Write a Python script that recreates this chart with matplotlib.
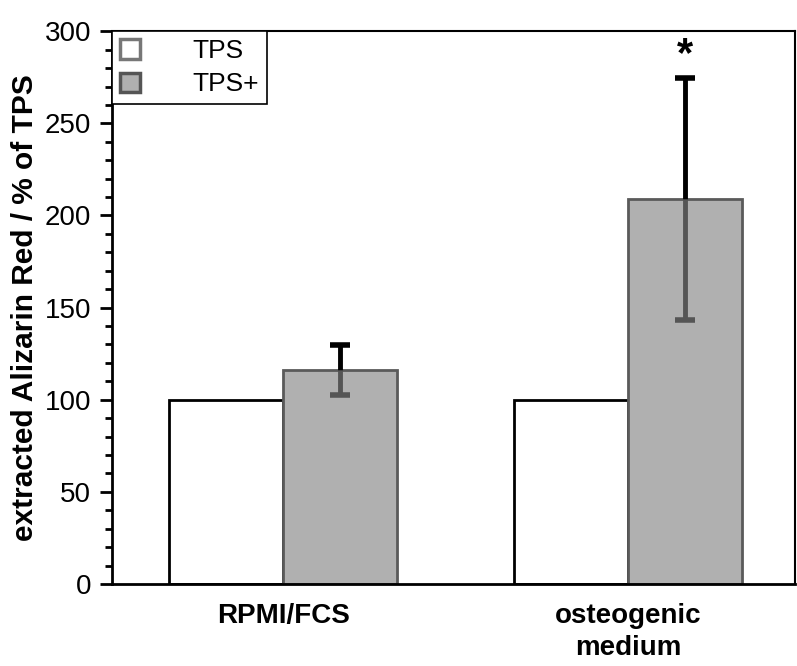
import matplotlib
matplotlib.use("Agg")
import matplotlib.pyplot as plt
from matplotlib.ticker import MultipleLocator
from matplotlib.patches import Patch
import numpy as np

plt.rcParams['font.family'] = ['Liberation Sans', 'DejaVu Sans']

groups = ["RPMI/FCS", "osteogenic\nmedium"]
tps = [100, 100]
tps_plus = [116, 209]
tps_plus_err = [13.5, 65.5]
star_y = 287

fig = plt.figure(figsize=(7.97, 6.66), dpi=100)
ax = fig.add_axes([0.1405, 0.1231, 0.857, 0.830])

x = np.arange(len(groups))
w = 0.33
ax.bar(x - w / 2, tps, w, color="white", edgecolor="black", linewidth=2, zorder=2)
ax.bar(x + w / 2, tps_plus, w, color="#b0b0b0", edgecolor="#5a5a5a", linewidth=2, zorder=2)

# error bars: upper part black, lower part (inside the bar) dark gray
tp = np.array(tps_plus)
err = np.array(tps_plus_err)
xe = x + w / 2
ax.vlines(xe, tp, tp + err, color="black", linewidth=3.5, zorder=3)
ax.vlines(xe, tp - err, tp, color="#555555", linewidth=3.5, zorder=3)
ax.plot(xe, tp + err, ls="none", marker="_", ms=14, mew=4, color="black", zorder=3)
ax.plot(xe, tp - err, ls="none", marker="_", ms=14, mew=4, color="#555555", zorder=3)

ax.text(xe[1], star_y, "*", ha="center", va="center", fontsize=30, fontweight="bold")

ax.set_xlim(-0.496, 1.484)
ax.set_ylim(0, 300)
ax.set_xticks(x)
ax.set_xticklabels(groups, fontsize=20, fontweight="bold", linespacing=1.3)
ax.tick_params(axis="x", length=0, pad=14)
ax.yaxis.set_major_locator(MultipleLocator(50))
ax.yaxis.set_minor_locator(MultipleLocator(10))
ax.tick_params(axis="y", which="major", length=9, width=2, labelsize=20, pad=6, direction="out")
ax.tick_params(axis="y", which="minor", length=5, width=2, direction="out")
ax.set_ylabel("extracted Alizarin Red / % of TPS", fontsize=21.5, fontweight="bold", labelpad=4)

for s in ["left", "bottom"]:
    ax.spines[s].set_linewidth(2)
for s in ["top", "right"]:
    ax.spines[s].set_linewidth(1.5)

handles = [Patch(facecolor="white", edgecolor="#777777", linewidth=2.5, label="TPS"),
           Patch(facecolor="#b0b0b0", edgecolor="#555555", linewidth=2.5, label="TPS+")]
leg = ax.legend(handles=handles, loc="upper left", bbox_to_anchor=(0, 1), borderaxespad=0,
                fontsize=19, fancybox=False, edgecolor="black", framealpha=1,
                handlelength=0.75, handleheight=0.75, handletextpad=2.0,
                borderpad=0.3, labelspacing=0.35)
leg.get_frame().set_linewidth(1.2)

fig.savefig("out.png", dpi=100)
